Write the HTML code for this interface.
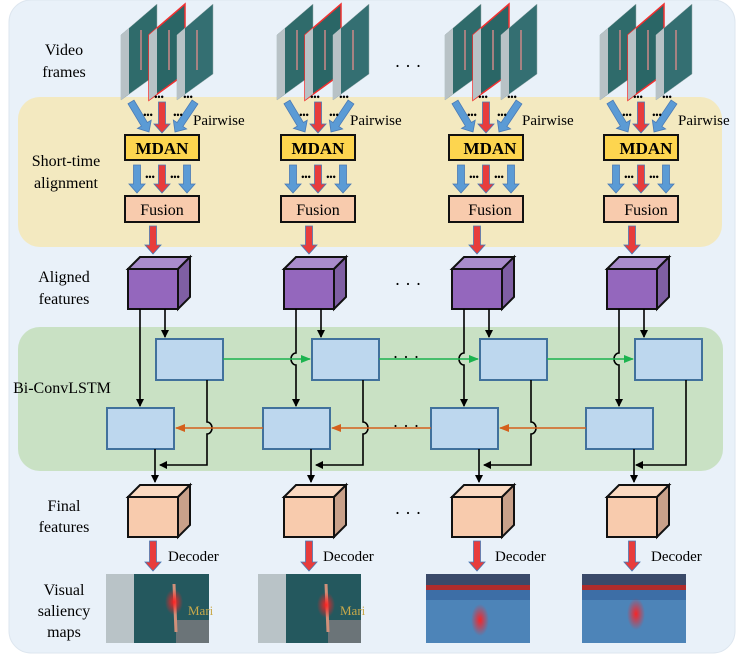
<!DOCTYPE html>
<html><head><meta charset="utf-8"><style>
html,body{margin:0;padding:0;background:#fff;}
svg{display:block;}
text{font-family:"Liberation Serif",serif;}
</style></head><body>
<svg id="s" width="748" height="655" viewBox="0 0 748 655" xmlns="http://www.w3.org/2000/svg">
<defs>
<marker id="ak" markerWidth="8" markerHeight="8" refX="7" refY="4" orient="auto" markerUnits="userSpaceOnUse"><path d="M0,0 L8,4 L0,8 z" fill="#000"/></marker>
<marker id="ag" markerWidth="10" markerHeight="8" refX="9" refY="4" orient="auto" markerUnits="userSpaceOnUse"><path d="M0,0 L10,4 L0,8 z" fill="#1cb34f"/></marker>
<marker id="ao" markerWidth="10" markerHeight="8" refX="9" refY="4" orient="auto" markerUnits="userSpaceOnUse"><path d="M0,0 L10,4 L0,8 z" fill="#d4601c"/></marker>
<radialGradient id="blob"><stop offset="0" stop-color="#ff2020" stop-opacity="0.95"/><stop offset="1" stop-color="#ff2020" stop-opacity="0"/></radialGradient>
</defs>
<rect x="9" y="0" width="726" height="653" rx="22" fill="#e9f1f9" stroke="#dde6ef"/>
<rect x="18" y="97" width="704" height="150" rx="22" fill="#f3e9c0"/>
<rect x="18" y="327" width="705" height="144" rx="22" fill="#c9e1c4"/>
<g id="g"></g>
<g font-size="16" fill="#000" text-anchor="middle">
<text x="64" y="55">Video</text><text x="64" y="77">frames</text>
<text x="66" y="166">Short-time</text><text x="66" y="188">alignment</text>
<text x="64" y="282">Aligned</text><text x="64" y="304">features</text>
<text x="62" y="393">Bi-ConvLSTM</text>
<text x="64" y="511">Final</text><text x="64" y="532">features</text>
<text x="64" y="595">Visual</text><text x="64" y="616">saliency</text><text x="64" y="637">maps</text>
</g>
<g font-size="16" text-anchor="middle">
<text x="162" y="154" font-weight="bold" font-size="17">MDAN</text>
<text x="318" y="154" font-weight="bold" font-size="17">MDAN</text>
<text x="490" y="154" font-weight="bold" font-size="17">MDAN</text>
<text x="646" y="154" font-weight="bold" font-size="17">MDAN</text>
<text x="162" y="215">Fusion</text>
<text x="318" y="215">Fusion</text>
<text x="490" y="215">Fusion</text>
<text x="646" y="215">Fusion</text>
</g>
<g font-size="15">
<text x="193" y="125">Pairwise</text><text x="350" y="125">Pairwise</text>
<text x="522" y="125">Pairwise</text><text x="678" y="125">Pairwise</text>
<text x="168" y="561">Decoder</text><text x="323" y="561">Decoder</text>
<text x="495" y="561">Decoder</text><text x="651" y="561">Decoder</text>
</g>
<g font-size="18" text-anchor="middle">
<text x="408" y="72">· · ·</text>
<text x="408" y="290">· · ·</text>
<text x="408" y="519">· · ·</text>
<text x="406" y="363">· · ·</text>
<text x="406" y="432">· · ·</text>
</g>
</svg>
<script>
const g=document.getElementById('g');let h='';
const C=[128,284,452,607];
function barrow(x1,y1,x2,y2,col){const dx=x2-x1,dy=y2-y1,L=Math.hypot(dx,dy),ux=dx/L,uy=dy/L,px=-uy,py=ux;const sw=3.5,hw=8,hl=9;const bx=x2-ux*hl,by=y2-uy*hl;
const p=[[x1+px*sw,y1+py*sw],[bx+px*sw,by+py*sw],[bx+px*hw,by+py*hw],[x2,y2],[bx-px*hw,by-py*hw],[bx-px*sw,by-py*sw],[x1-px*sw,y1-py*sw]];
h+=`<polygon points="${p.map(q=>q.join(',')).join(' ')}" fill="${col}" stroke="#4a7ab5" stroke-width="0.8"/>`;}
function cube(x,y,f,t,s){const w=50,hh=40,d=12;
h+=`<polygon points="${x},${y} ${x+d},${y-d} ${x+w+d},${y-d} ${x+w},${y}" fill="${t}" stroke="#111" stroke-width="2"/>`;
h+=`<polygon points="${x+w},${y} ${x+w+d},${y-d} ${x+w+d},${y+hh-d} ${x+w},${y+hh}" fill="${s}" stroke="#111" stroke-width="2"/>`;
h+=`<rect x="${x}" y="${y}" width="${w}" height="${hh}" fill="${f}" stroke="#111" stroke-width="2"/>`;}
function ln(pts,m){h+=`<polyline points="${pts}" fill="none" stroke="#000" stroke-width="1.6" ${m?'marker-end="url(#ak)"':''}/>`;}
function dots(x,y){h+=`<text x="${x}" y="${y}" font-size="9" font-weight="bold" font-family="Liberation Sans" text-anchor="middle">•••</text>`;}
C.forEach((c,i)=>{
 const fx=c-7;
 const cols=['#2f6b6b','#2a6666','#346f72'];
 [0,1,2].forEach(k=>{const x=fx+k*28;const red=k==1;
  h+=`<polygon points="${x},${35} ${x+36},${4} ${x+36},${74} ${x},${100}" fill="${cols[k]}" stroke="${red?'#f03030':'#9aa'}" stroke-width="${red?1.5:0.5}"/>`;
  h+=`<polygon points="${x},${35} ${x+8},${28} ${x+8},${94} ${x},${100}" fill="#b8c2c6"/>`;
  h+=`<line x1="${x+20}" y1="30" x2="${x+20}" y2="70" stroke="#c88" stroke-width="1.5"/>`;
 });
 dots(fx+38,100);dots(fx+67,100);
 const mx=c-3;
 barrow(mx+6,102,mx+24,132,'#5b9bd5');barrow(mx+37,102,mx+37,133,'#e83c3c');barrow(mx+70,102,mx+50,132,'#5b9bd5');
 dots(mx+23,118);dots(mx+53,118);
 h+=`<rect x="${mx}" y="135" width="74" height="25" fill="#fdd54f" stroke="#111" stroke-width="2"/>`;
 barrow(mx+12,165,mx+12,193,'#5b9bd5');barrow(mx+37,165,mx+37,193,'#e83c3c');barrow(mx+62,165,mx+62,193,'#5b9bd5');
 dots(mx+25,180);dots(mx+50,180);
 h+=`<rect x="${mx}" y="196" width="74" height="26" fill="#f8cbad" stroke="#111" stroke-width="2"/>`;
 barrow(c+25,226,c+25,254,'#e83c3c');
 cube(c,269,'#9467bd','#a98ccc','#7f5fa3');
 const ux=c+28,lx=c-21;
 h+=`<rect x="${ux}" y="339" width="67" height="41" fill="#bdd7ee" stroke="#41719c" stroke-width="2"/>`;
 h+=`<rect x="${lx}" y="408" width="67" height="41" fill="#bdd7ee" stroke="#41719c" stroke-width="2"/>`;
 ln(`${c+37},309 ${c+37},337`,1);
 if(i==0) ln(`${c+12},309 ${c+12},406`,1);
 else {h+=`<path d="M${c+12},309 L${c+12},353 A5,6 0 0 0 ${c+12},365 L${c+12},406" fill="none" stroke="#000" stroke-width="1.6" marker-end="url(#ak)"/>`;}
 const ax=ux+51;
 if(i<3) h+=`<path d="M${ax},380 L${ax},422 A5,6 0 0 1 ${ax},434 L${ax},465 L${lx+53},465" fill="none" stroke="#000" stroke-width="1.6" marker-end="url(#ak)"/>`;
 else ln(`${ax},380 ${ax},465 ${lx+50},465`,1);
 ln(`${lx+48},449 ${lx+48},482`,1);
 cube(c,497,'#f8cbad','#fad9c1','#c9a18a');
 barrow(c+25,541,c+25,571,'#e83c3c');
 const sx=[106,258,426,582][i];
 if(i<2){
  h+=`<rect x="${sx}" y="574" width="103" height="69" fill="#24585e"/><rect x="${sx}" y="574" width="28" height="69" fill="#b9c3c7"/><rect x="${sx+70}" y="620" width="33" height="23" fill="#6b7478"/><text x="${sx+82}" y="615" font-size="13" fill="#c9a94a" font-family="Liberation Sans">Mari</text>`;
  h+=`<line x1="${sx+68}" y1="584" x2="${sx+70}" y2="632" stroke="#d0907a" stroke-width="3"/><ellipse cx="${sx+68}" cy="${i?605:602}" rx="9" ry="13" fill="url(#blob)"/>`;
 } else {
  h+=`<rect x="${sx}" y="574" width="104" height="69" fill="#3d6ea6"/><rect x="${sx}" y="574" width="104" height="14" fill="#3a4a6a"/><rect x="${sx}" y="585" width="104" height="5" fill="#b02c2c"/><rect x="${sx}" y="600" width="104" height="43" fill="#4d84b8"/>`;
  h+=`<ellipse cx="${sx+54}" cy="${i==2?620:614}" rx="9" ry="16" fill="url(#blob)"/>`;
 }
});
for(let i=0;i<3;i++){const a=C[i]+95,b=C[i+1]+26;h+=`<line x1="${a}" y1="359" x2="${b}" y2="359" stroke="#1cb34f" stroke-width="1.6" marker-end="url(#ag)"/>`;}
for(let i=3;i>=1;i--){const a=C[i]-21,b=C[i-1]+48;h+=`<line x1="${a}" y1="428" x2="${b}" y2="428" stroke="#d4601c" stroke-width="1.6" marker-end="url(#ao)"/>`;}
g.innerHTML=h;
</script>
</body></html>
